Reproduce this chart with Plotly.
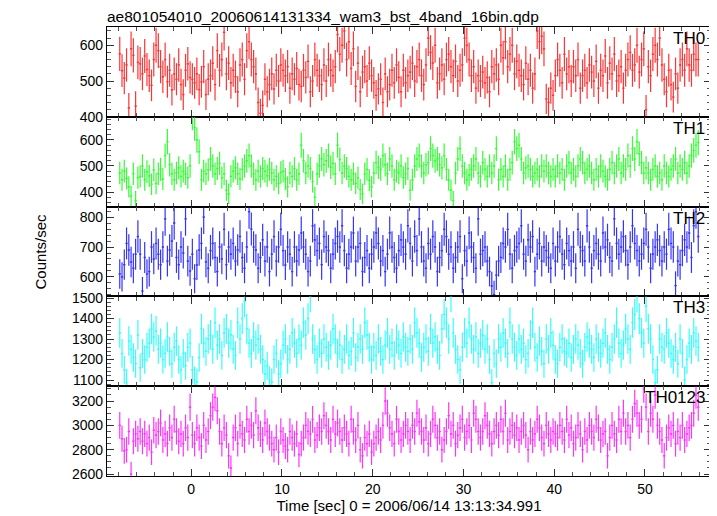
import numpy as np
import plotly.graph_objects as go
from plotly.subplots import make_subplots

bin_width = 0.25
t_start = -8.0

th0 = [
    576, 529, 508, 545, 425, 590, 572, 430, 552, 548, 520, 570, 532, 515, 488, 560,
    600, 585, 540, 512, 560, 498, 530, 475, 520, 505, 545, 490, 462, 530, 548, 510,
    505, 495, 520, 476, 498, 540, 462, 505, 515, 550, 490, 585, 530, 560, 636, 520,
    550, 495, 530, 512, 470, 545, 560, 505, 585, 610, 560, 540, 520, 440, 410, 432,
    505, 470, 490, 520, 478, 530, 500, 545, 530, 515, 540, 480, 520, 505, 535, 490,
    485, 530, 510, 555, 470, 500, 560, 530, 515, 490, 545, 500, 560, 530, 515, 540,
    630, 575, 600, 640, 560, 610, 535, 590, 485, 550, 470, 525, 540, 500, 550, 515,
    495, 460, 478, 505, 440, 520, 470, 490, 530, 495, 545, 510, 470, 530, 495, 515,
    525, 550, 500, 540, 560, 515, 490, 545, 620, 580, 550, 600, 495, 520, 545, 505,
    560, 575, 540, 515, 555, 500, 530, 545, 620, 600, 560, 515, 540, 480, 515, 500,
    525, 495, 510, 470, 540, 520, 545, 505, 600, 565, 610, 540, 575, 600, 520, 555,
    530, 515, 490, 550, 505, 530, 480, 520, 640, 610, 625, 590, 450, 440, 480, 460,
    515, 560, 530, 495, 575, 520, 540, 500, 540, 515, 560, 480, 515, 530, 495, 545,
    525, 500, 555, 480, 530, 515, 570, 495, 550, 520, 575, 500, 515, 540, 480, 530,
    560, 580, 530, 545, 600, 525, 560, 590, 420, 540, 515, 575, 600, 560, 620, 545,
    505, 470, 530, 490, 455, 520, 480, 545, 560, 530, 590, 545, 530, 575, 560, 560,
]

th1 = [
    473, 447, 480, 452, 420, 385, 470, 367, 455, 460, 500, 447, 478, 462, 430, 485,
    433, 470, 487, 450, 540, 593, 505, 470, 447, 473, 493, 460, 480, 470, 455, 500,
    690, 648, 600, 555, 447, 480, 470, 485, 527, 500, 470, 490, 510, 455, 470, 407,
    393, 460, 480, 493, 470, 450, 487, 500, 520, 540, 500, 470, 447, 480, 460, 490,
    480, 463, 487, 473, 447, 460, 433, 475, 480, 450, 420, 473, 460, 490, 447, 470,
    580, 520, 473, 500, 490, 440, 380, 470, 500, 527, 505, 520, 540, 495, 510, 470,
    580, 525, 473, 500, 490, 460, 447, 470, 433, 455, 410, 393, 470, 487, 445, 420,
    473, 513, 495, 487, 540, 505, 470, 527, 500, 447, 480, 473, 500, 455, 470, 490,
    407, 447, 500, 527, 540, 500, 473, 505, 513, 567, 540, 520, 527, 505, 493, 540,
    487, 447, 407, 367, 473, 527, 567, 500, 473, 447, 465, 487, 500, 527, 473, 460,
    513, 487, 460, 500, 473, 500, 567, 447, 487, 460, 500, 447, 487, 513, 593, 567,
    580, 527, 473, 493, 500, 487, 460, 473, 487, 460, 500, 480, 500, 473, 460, 487,
    460, 500, 473, 487, 447, 500, 513, 473, 487, 460, 500, 527, 513, 473, 487, 500,
    473, 447, 487, 460, 500, 480, 460, 447, 487, 513, 473, 500, 527, 473, 500, 487,
    540, 500, 567, 527, 593, 547, 513, 473, 493, 473, 447, 487, 500, 460, 473, 447,
    500, 473, 460, 487, 500, 527, 473, 500, 487, 513, 473, 500, 540, 560, 580, 590,
]

th2 = [
    610, 600, 641, 712, 690, 650, 629, 676, 735, 676, 553, 665, 610, 618, 700, 660,
    712, 676, 641, 700, 794, 653, 690, 720, 780, 665, 641, 700, 680, 794, 653, 620,
    676, 594, 640, 690, 712, 800, 650, 629, 688, 712, 665, 618, 700, 660, 759, 641,
    700, 676, 712, 653, 690, 735, 665, 629, 700, 818, 760, 700, 690, 629, 665, 724,
    653, 700, 618, 676, 735, 653, 700, 759, 688, 640, 700, 676, 618, 700, 653, 690,
    747, 700, 676, 618, 653, 771, 724, 688, 712, 641, 735, 700, 688, 629, 676, 712,
    735, 700, 771, 688, 629, 676, 700, 747, 653, 700, 712, 618, 665, 688, 629, 676,
    700, 747, 712, 653, 688, 618, 676, 747, 700, 665, 629, 688, 724, 700, 676, 771,
    712, 653, 735, 688, 794, 700, 653, 629, 712, 676, 735, 700, 618, 665, 688, 759,
    735, 676, 700, 629, 665, 700, 735, 594, 688, 653, 747, 700, 665, 629, 794, 676,
    688, 700, 653, 618, 570, 541, 606, 653, 665, 712, 700, 759, 676, 629, 688, 700,
    712, 771, 676, 653, 724, 700, 735, 618, 676, 712, 653, 700, 688, 665, 629, 712,
    653, 700, 735, 676, 641, 712, 688, 653, 700, 629, 759, 700, 688, 653, 771, 700,
    629, 688, 712, 676, 653, 747, 700, 724, 665, 653, 794, 712, 676, 700, 735, 688,
    641, 700, 771, 712, 688, 653, 676, 712, 759, 700, 629, 676, 700, 724, 688, 653,
    700, 676, 759, 712, 700, 571, 653, 641, 688, 724, 700, 747, 665, 771, 818, 735,
]

th3 = [
    1330, 1230, 1150, 1087, 1290, 1250, 1210, 1180, 1320, 1160, 1230, 1200, 1260, 1280, 1350, 1310,
    1340, 1250, 1280, 1200, 1230, 1310, 1240, 1180, 1260, 1290, 1200, 1150, 1230, 1170, 1260, 1280,
    1150, 1100, 1090, 1210, 1350, 1280, 1240, 1300, 1320, 1250, 1380, 1270, 1300, 1220, 1330, 1350,
    1280, 1320, 1250, 1220, 1380, 1300, 1400, 1483, 1350, 1280, 1230, 1310, 1270, 1300, 1250, 1200,
    1130, 1170, 1100, 1090, 1200, 1230, 1130, 1180, 1270, 1300, 1200, 1250, 1330, 1280, 1230, 1300,
    1270, 1380, 1320, 1400, 1508, 1300, 1250, 1200, 1280, 1230, 1300, 1260, 1220, 1270, 1350, 1300,
    1230, 1270, 1200, 1250, 1300, 1220, 1240, 1330, 1210, 1260, 1300, 1250, 1380, 1320, 1260, 1200,
    1260, 1220, 1300, 1240, 1200, 1270, 1330, 1250, 1280, 1220, 1300, 1270, 1230, 1310, 1260, 1240,
    1300, 1250, 1380, 1330, 1280, 1210, 1260, 1300, 1240, 1350, 1280, 1310, 1250, 1220, 1350, 1420,
    1380, 1300, 1508, 1330, 1250, 1200, 1150, 1260, 1330, 1280, 1380, 1300, 1250, 1310, 1230, 1280,
    1320, 1250, 1300, 1200, 1087, 1230, 1180, 1300, 1260, 1330, 1280, 1230, 1380, 1300, 1260, 1220,
    1300, 1250, 1280, 1200, 1230, 1320, 1380, 1260, 1210, 1290, 1240, 1180, 1300, 1250, 1330, 1270,
    1200, 1180, 1260, 1300, 1240, 1230, 1280, 1210, 1250, 1300, 1270, 1230, 1180, 1260, 1310, 1280,
    1250, 1210, 1300, 1260, 1230, 1280, 1330, 1250, 1200, 1260, 1300, 1380, 1280, 1230, 1270, 1350,
    1300, 1250, 1380, 1420, 1508, 1400, 1330, 1280, 1460, 1350, 1300, 1200, 1087, 1150, 1300, 1260,
    1250, 1330, 1280, 1230, 1200, 1260, 1180, 1300, 1230, 1100, 1200, 1280, 1250, 1330, 1290, 1260,
]

th0123 = [
    3000, 2890, 2790, 2800, 2950, 2600, 2870, 2930, 2890, 2950, 2870, 2930, 2850, 2900, 2780, 2960,
    2920, 2950, 3020, 2880, 2930, 2850, 2980, 2900, 3050, 2950, 2870, 2930, 2850, 2980, 2900, 3150,
    2920, 2850, 2980, 2900, 2830, 3000, 2880, 2950, 3080, 3150, 3230, 3120, 2950, 2850, 2980, 2920,
    2750, 2650, 2900, 2980, 2850, 3000, 2930, 2880, 3050, 2950, 3000, 2920, 3120, 2980, 2930, 2880,
    3020, 2950, 2900, 2850, 2800, 2900, 2780, 2950, 2880, 2830, 2800, 2950, 2900, 2850, 2930, 2760,
    2850, 2900, 3000, 2950, 2930, 3050, 2880, 2920, 2980, 2950, 3080, 3000, 2950, 2880, 3050, 2930,
    3020, 2950, 2880, 2980, 2930, 2850, 3050, 2950, 2880, 3000, 2800, 2750, 2900, 2850, 2930, 2780,
    2850, 2900, 2950, 2880, 3000, 3200, 3100, 2980, 2930, 2850, 3050, 2950, 2880, 2930, 3000, 2950,
    2880, 3000, 2950, 3100, 3030, 2950, 2880, 2980, 2850, 2930, 3050, 3000, 2900, 2950, 2800, 2880,
    2950, 3080, 2930, 3000, 2850, 2920, 2980, 3050, 2900, 2950, 3000, 2880, 3100, 3050, 2950, 2900,
    2950, 3080, 3000, 2930, 2850, 2950, 3000, 2920, 3050, 2950, 3100, 2880, 2950, 3000, 2920, 2980,
    2880, 2950, 3000, 2920, 2800, 2950, 2880, 2930, 3050, 2980, 2900, 2850, 3000, 2930, 2880, 2950,
    2930, 2900, 3000, 2950, 2880, 3050, 2920, 2980, 2850, 2900, 3000, 2930, 2800, 2950, 2880, 3000,
    2950, 2900, 3050, 2980, 2880, 2930, 2950, 2750, 2900, 3000, 2930, 2880, 3050, 2950, 3100, 2950,
    3000, 2900, 3050, 3180, 3100, 3000, 3050, 3300, 3150, 2950, 3100, 3050, 3250, 3000, 2950, 2880,
    2750, 2900, 2980, 2930, 3000, 2850, 2950, 2900, 3000, 2880, 2930, 2980, 3000, 3100, 3250, 3150,
]

panel_names = ["TH0", "TH1", "TH2", "TH3", "TH0123"]
panel_series = [th0, th1, th2, th3, th0123]
panel_colors = ["#ff0000", "#00ff00", "#0000ff", "#00ffff", "#ff00ff"]
y_ranges = [[400, 651], [344, 689], [535, 835], [1070, 1508], [2584, 3322]]
y_dticks = [100, 100, 100, 100, 200]
y_minor = [20, 20, 20, 20, 50]

fig = make_subplots(rows=5, cols=1, shared_xaxes=True, vertical_spacing=0)

font_main = "Liberation Sans, Arial, Helvetica, sans-serif"

# page has an 8px body margin; figure sized/offset to land on the reference pixels
W, H = 709, 508
ML, MR, MT, MB = 99, 6, 19, 40
plot_w = W - ML - MR

for i, (name, vals, col) in enumerate(zip(panel_names, panel_series, panel_colors)):
    v = np.array(vals, dtype=float)
    t = t_start + bin_width * (np.arange(len(v)) + 0.5)
    err = np.sqrt(v / bin_width)
    fig.add_trace(
        go.Scatter(
            x=t, y=v, mode="markers",
            marker=dict(size=1, color=col),
            error_x=dict(type="constant", value=bin_width / 2, width=0, thickness=1.4, color=col),
            error_y=dict(type="data", array=err, width=0, thickness=1.2, color=col),
            opacity=0.8,
            showlegend=False, hoverinfo="skip",
        ),
        row=i + 1, col=1,
    )
    fig.update_yaxes(
        range=y_ranges[i], dtick=y_dticks[i], tick0=0,
        ticks="inside", ticklen=7, tickcolor="#333", tickwidth=1,
        minor=dict(dtick=y_minor[i], ticks="inside", ticklen=4, tickcolor="#555"),
        showline=True, linecolor="black", linewidth=1.2, mirror="allticks",
        showgrid=False, zeroline=False, automargin=False,
        tickfont=dict(family=font_main, size=14, color="black"),
        row=i + 1, col=1,
    )
    yref = "y domain" if i == 0 else f"y{i + 1} domain"
    fig.add_annotation(
        x=0.993, y=1.0, xref="x domain", yref=yref,
        text=name, showarrow=False, xanchor="right", yanchor="top",
        font=dict(family=font_main, size=17, color="black"),
    )

for i in range(5):
    fig.update_xaxes(
        range=[-9.28, 57.28], dtick=10, tick0=0,
        ticks="inside", ticklen=7, tickcolor="#333", tickwidth=1,
        minor=dict(dtick=2, ticks="inside", ticklen=4, tickcolor="#555"),
        showline=True, linecolor="black", linewidth=1.2, mirror="allticks",
        showgrid=False, zeroline=False, automargin=False,
        showticklabels=(i == 4),
        tickfont=dict(family=font_main, size=14, color="black"),
        row=i + 1, col=1,
    )

fig.update_xaxes(
    title=dict(text="Time [sec] 0 = 2006/06/14 13:13:34.991",
               font=dict(family=font_main, size=15, color="black"), standoff=2),
    row=5, col=1,
)

fig.add_annotation(
    x=(32 - ML) / plot_w, y=0.5, xref="paper", yref="paper", text="Counts/sec",
    textangle=-90, showarrow=False, xanchor="center", yanchor="middle",
    font=dict(family=font_main, size=15, color="black"),
)

fig.update_layout(
    width=W, height=H,
    margin=dict(l=ML, r=MR, t=MT, b=MB),
    paper_bgcolor="white", plot_bgcolor="white",
    title=dict(text="ae801054010_20060614131334_wam3_bst_4band_16bin.qdp",
               x=ML / W, xanchor="left", y=1 - 9 / H, yanchor="middle",
               font=dict(family=font_main, size=15.5, color="black")),
)

fig.write_html("out.html")
